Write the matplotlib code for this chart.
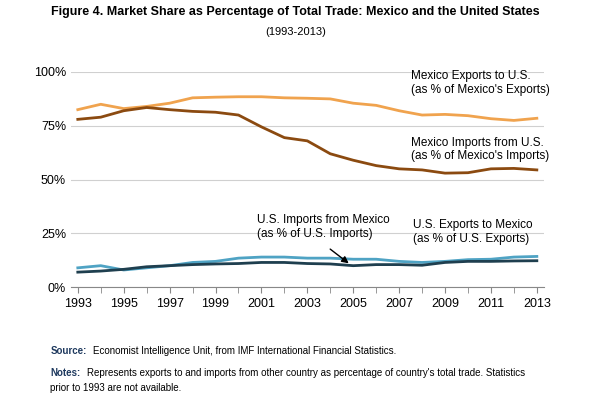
import matplotlib.pyplot as plt
import numpy as np

plt.rcParams['font.family'] = ['Liberation Sans', 'DejaVu Sans']

years = np.arange(1993, 2014)
mex_exports = [82.5, 85, 83, 84, 85.5, 88, 88.3, 88.5, 88.5, 88, 87.8, 87.5, 85.5, 84.5, 82, 80, 80.3, 79.7, 78.3, 77.5, 78.5]
mex_imports = [78, 79, 82, 83.5, 82.5, 81.7, 81.3, 80, 74.5, 69.5, 68, 62, 59, 56.5, 55, 54.5, 53, 53.2, 55, 55.2, 54.5]
us_exports = [9, 10, 8, 9, 10, 11.5, 12, 13.5, 14, 14, 13.5, 13.5, 13, 13, 12, 11.5, 12, 12.8, 13, 14, 14.3]
us_imports = [7, 7.5, 8.3, 9.5, 10, 10.5, 10.8, 11, 11.5, 11.5, 11, 10.8, 10, 10.5, 10.5, 10.2, 11.5, 12, 12, 12.2, 12.3]

fig = plt.figure(figsize=(5.91, 4.0), dpi=100)
ax = fig.add_axes([0.12, 0.282, 0.80, 0.538])
ax.plot(years, mex_exports, color='#f0a34e', lw=2)
ax.plot(years, mex_imports, color='#8b4a10', lw=2)
ax.plot(years, us_exports, color='#4fa3c4', lw=2)
ax.plot(years, us_imports, color='#1f3f4f', lw=2)

ax.set_xlim(1992.7, 2013.3)
ax.set_ylim(0, 100)
ax.set_yticks([0, 25, 50, 75, 100])
ax.set_yticklabels(['0%', '25%', '50%', '75%', '100%'], fontsize=9)
ax.set_xticks(range(1993, 2014, 2))
ax.set_xticks(range(1993, 2014), minor=True)
ax.tick_params(axis='x', labelsize=9, length=4, which='both', color='#888888')
ax.tick_params(axis='y', length=0)
ax.grid(axis='y', color='#d0d0d0', lw=0.8)
for s in ['top', 'right', 'left']:
    ax.spines[s].set_visible(False)
ax.spines['bottom'].set_color('#888888')

fs = 8.5
ax.text(2007.5, 89, "Mexico Exports to U.S.\n(as % of Mexico's Exports)", fontsize=fs, va='bottom')
ax.text(2007.5, 58, "Mexico Imports from U.S.\n(as % of Mexico's Imports)", fontsize=fs, va='bottom')
ax.text(2000.8, 22, "U.S. Imports from Mexico\n(as % of U.S. Imports)", fontsize=fs, va='bottom')
ax.text(2007.6, 19.5, "U.S. Exports to Mexico\n(as % of U.S. Exports)", fontsize=fs, va='bottom')
ax.annotate('', xy=(2004.9, 10.3), xytext=(2003.9, 18.5),
            arrowprops=dict(arrowstyle='-|>', color='black', lw=1))

fig.text(0.5, 0.962, 'Figure 4. Market Share as Percentage of Total Trade: Mexico and the United States',
         ha='center', fontsize=9, fontweight='bold')
fig.text(0.5, 0.912, '(1993-2013)', ha='center', fontsize=8)
fig.text(0.085, 0.115, 'Source:', fontsize=7, fontweight='bold', color='#1f3a5f')
fig.text(0.158, 0.115, 'Economist Intelligence Unit, from IMF International Financial Statistics.', fontsize=7)
fig.text(0.085, 0.06, 'Notes:', fontsize=7, fontweight='bold', color='#1f3a5f')
fig.text(0.148, 0.06, "Represents exports to and imports from other country as percentage of country's total trade. Statistics",
         fontsize=7)
fig.text(0.085, 0.022, 'prior to 1993 are not available.', fontsize=7)
fig.savefig('out.png', dpi=100)
